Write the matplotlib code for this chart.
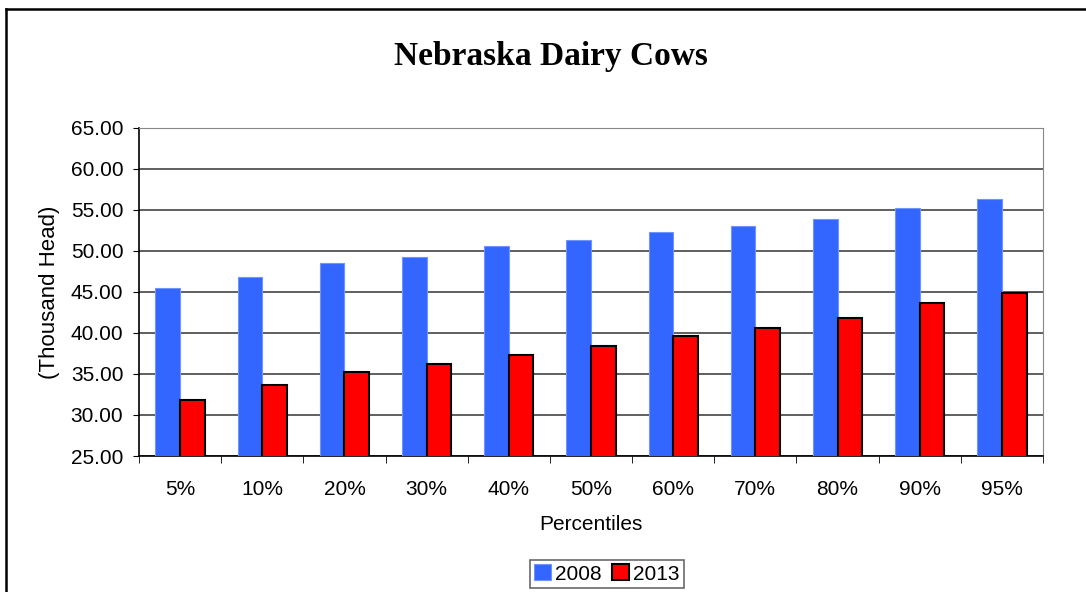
import matplotlib.pyplot as plt
import numpy as np
from matplotlib.lines import Line2D

percentiles = ["5%", "10%", "20%", "30%", "40%", "50%", "60%", "70%", "80%", "90%", "95%"]
cows_2008 = [45.45, 46.8, 48.5, 49.3, 50.6, 51.4, 52.3, 53.1, 53.9, 55.2, 56.3]
cows_2013 = [31.87, 33.6, 35.2, 36.2, 37.3, 38.45, 39.6, 40.65, 41.8, 43.7, 44.9]
y_ticks = np.arange(25, 66, 5)

fig = plt.figure(figsize=(10.86, 5.92), dpi=100)
ax = fig.add_axes([139/1086, 136/592, 904/1086, 328/592])

x = np.arange(len(percentiles))
w = 0.3
ax.bar(x - w/2, cows_2008, w, color="#3366FF", edgecolor="#6f94ff",
       linewidth=0.8, label="2008", zorder=3)
ax.bar(x + w/2, cows_2013, w, color="#FF0000", edgecolor="black",
       linewidth=1.5, label="2013", zorder=3)

fs = 15
ax.set_xlim(-0.5, len(percentiles) - 0.5)
ax.set_ylim(25, 65)
ax.set_yticks(y_ticks)
ax.set_yticklabels([f"{v:.2f}" for v in y_ticks], fontsize=fs, family="Liberation Sans")
ax.set_xticks(x)
ax.set_xticklabels(percentiles, fontsize=fs, family="Liberation Sans")
ax.set_xticks(np.arange(-0.5, len(percentiles), 1), minor=True)
ax.tick_params(axis="x", which="major", length=0, pad=17)
ax.tick_params(axis="x", which="minor", length=5, direction="out", color="black")
ax.tick_params(axis="y", length=4.3, direction="out", color="black", pad=7)
ax.grid(axis="y", color="#444444", linewidth=1.2, zorder=0)

for side in ["top", "right"]:
    ax.spines[side].set_color("#888888")
for side in ["left", "bottom"]:
    ax.spines[side].set_color("black")
    ax.spines[side].set_linewidth(1.2)

ax.set_xlabel("Percentiles", fontsize=fs, family="Liberation Sans", labelpad=12)
ax.set_ylabel("(Thousand Head)", fontsize=16, family="Liberation Sans", labelpad=8)
fig.text(551/1086, 1 - 57/592, "Nebraska Dairy Cows", ha="center", va="center",
         fontsize=24, fontweight="bold", family="Liberation Serif")

leg = fig.legend(loc="center", bbox_to_anchor=(607/1086, 1 - 574/592), ncol=2,
                 prop={"family": "Liberation Sans", "size": fs}, frameon=True,
                 fancybox=False, edgecolor="#444444", handlelength=0.8,
                 handleheight=0.8, handletextpad=0.2, columnspacing=0.5,
                 borderpad=0.2, borderaxespad=0)
leg.get_frame().set_linewidth(1.2)

fig.add_artist(Line2D([6/1086, 1], [1 - 9/592, 1 - 9/592], color="black",
                      linewidth=1.8, transform=fig.transFigure))
fig.add_artist(Line2D([6/1086, 6/1086], [0, 1 - 9/592], color="black",
                      linewidth=1.8, transform=fig.transFigure))

fig.savefig("out.png", dpi=100)
